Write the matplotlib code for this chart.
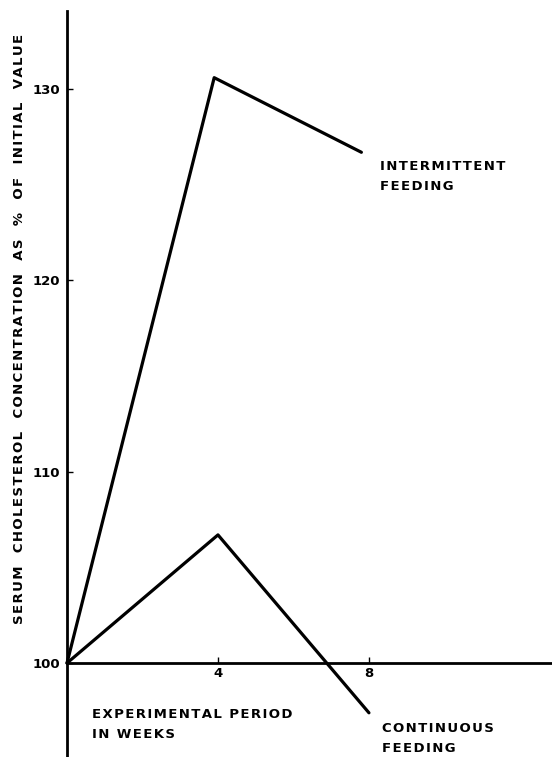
import matplotlib.pyplot as plt

# values
weeks_inter = [0, 3.9, 7.8]
chol_inter = [100, 130.6, 126.7]
weeks_cont = [0, 4, 8]
chol_cont = [100, 106.7, 97.4]

x_ticks = [4, 8]
x_ticklabels = ["4", "8"]
y_ticks = [100, 110, 120, 130]
y_ticklabels = ["100", "110", "120", "130"]

W, H = 552, 757
fig = plt.figure(figsize=(W / 100, H / 100), dpi=100)
ax = fig.add_axes([0, 0, 1, 1])
ax.patch.set_alpha(0)

ax.set_xlim(-1.775, 12.85)
ax.set_ylim(95.09, 134.66)

ax.plot(weeks_inter, chol_inter, color="black", lw=2.3, solid_capstyle="round")
ax.plot(weeks_cont, chol_cont, color="black", lw=2.3, solid_capstyle="round")

for side in ["top", "right"]:
    ax.spines[side].set_visible(False)
ax.spines["left"].set_position(("data", 0))
ax.spines["bottom"].set_position(("data", 100))
ax.spines["left"].set_bounds(95.09, 134.1)
ax.spines["bottom"].set_bounds(0, 12.85)
ax.spines["left"].set_linewidth(2.0)
ax.spines["bottom"].set_linewidth(2.0)

ax.set_xticks(x_ticks)
ax.set_xticklabels(x_ticklabels)
ax.set_yticks(y_ticks)
ax.set_yticklabels(y_ticklabels)
ax.tick_params(axis="x", direction="in", length=4, width=1, pad=3, labelsize=9.5)
ax.tick_params(axis="y", direction="in", length=4, width=1, pad=5, labelsize=9.5)
for lbl in ax.get_xticklabels() + ax.get_yticklabels():
    lbl.set_fontweight("bold")

tkw = dict(fontsize=9.5, fontweight="bold", color="black")


def px(x, y):
    return x / W, 1 - y / H


def spaced(s):
    # old typewriter-ish lettering is wide, put hair spaces between letters
    return "\u200a".join(s)


fig.text(*px(20, 329),
         spaced("SERUM  CHOLESTEROL  CONCENTRATION  AS  %  OF  INITIAL  VALUE"),
         rotation=90, ha="center", va="center", **tkw)
fig.text(*px(380, 167), spaced("INTERMITTENT"), ha="left", va="center", **tkw)
fig.text(*px(380, 187), spaced("FEEDING"), ha="left", va="center", **tkw)
fig.text(*px(92, 714), spaced("EXPERIMENTAL PERIOD"), ha="left", va="center", **tkw)
fig.text(*px(92, 734), spaced("IN WEEKS"), ha="left", va="center", **tkw)
fig.text(*px(382, 729), spaced("CONTINUOUS"), ha="left", va="center", **tkw)
fig.text(*px(382, 749), spaced("FEEDING"), ha="left", va="center", **tkw)

fig.savefig("out.png", dpi=100)
